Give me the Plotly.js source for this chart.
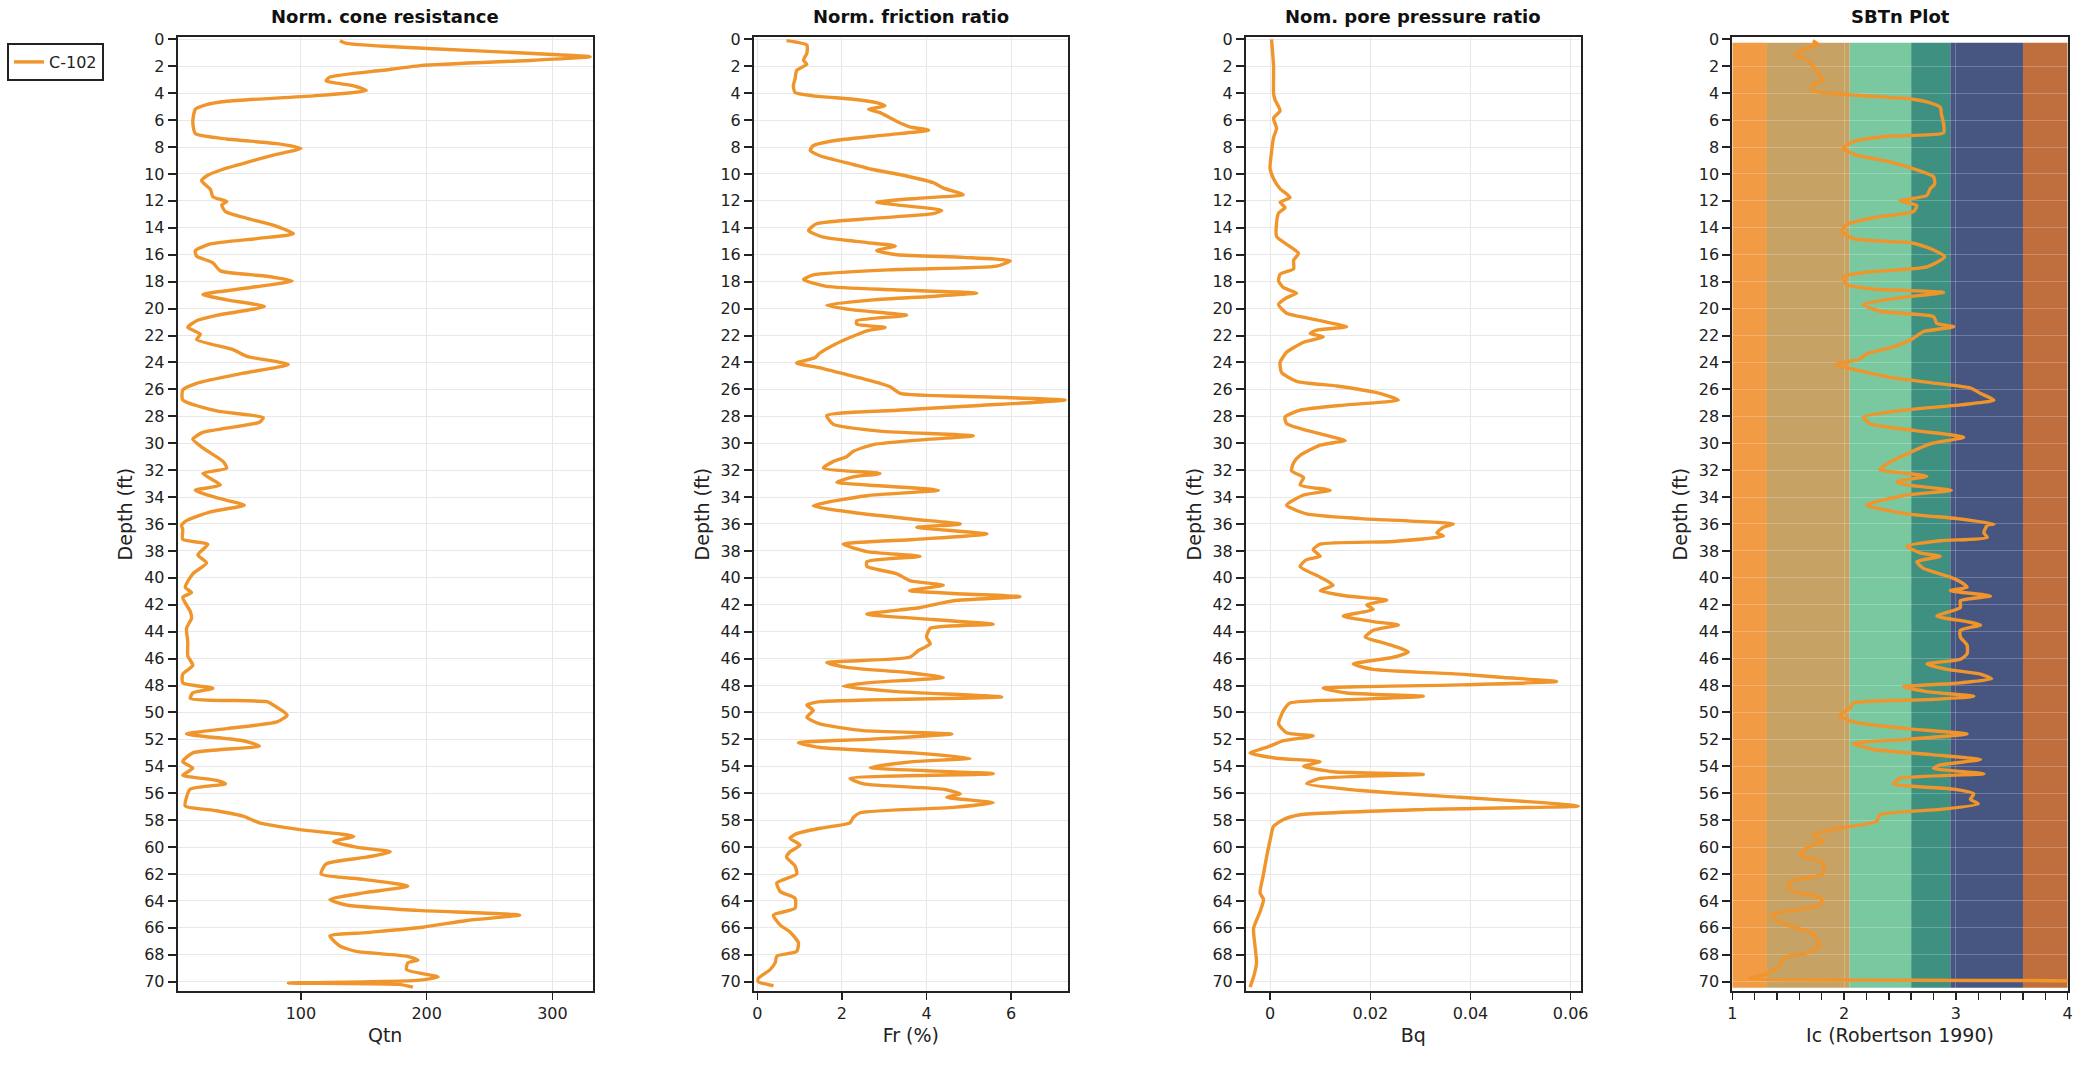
<!DOCTYPE html>
<html>
<head>
<meta charset="utf-8">
<script src="https://cdn.plot.ly/plotly-3.0.1.min.js"></script>
<style>
html,body{margin:0;padding:0;background:#ffffff;}
#chart{width:2089px;height:1074px;}
</style>
</head>
<body>
<div id="chart"></div>
<script>
// ---------------- DATA ----------------
const seriesName = 'C-102';

const panelTitles = ['Norm. cone resistance', 'Norm. friction ratio', 'Nom. pore pressure ratio', 'SBTn Plot'];
const xAxisTitles = ['Qtn', 'Fr (%)', 'Bq', 'Ic (Robertson 1990)'];
const depthTitle = 'Depth (ft)';

// Normalised cone resistance
const qtnDepth = [0.1,0.3,0.7,1.05,1.3,1.55,1.95,2.3,2.8,3.1,3.45,3.8,4.2,4.6,4.85,5.2,6.1,7.0,7.4,7.75,8.1,8.6,9.3,9.65,10.15,10.5,11.15,11.7,12.05,12.3,12.8,13.3,13.8,14.45,14.8,15.2,15.7,16.1,16.6,17.2,17.6,17.95,18.45,18.95,19.35,19.85,20.5,20.9,21.4,21.9,22.3,23.05,23.55,24.15,24.8,25.55,26.05,26.8,27.6,28.1,28.45,29.2,29.7,30.35,31.35,31.85,32.25,33.1,33.5,34.25,34.6,35.1,35.75,36.1,36.4,37.15,37.5,38.3,38.9,39.7,40.7,41.1,41.45,42.5,43.0,43.75,44.75,45.8,46.5,47.15,47.8,48.2,48.55,48.95,49.2,49.45,50.2,50.7,51.2,51.6,52.1,52.5,53.0,53.65,54.15,54.65,55.05,55.3,55.7,56.3,56.95,57.3,57.7,58.2,58.7,59.2,59.6,60.0,60.35,60.75,61.25,62.0,62.4,62.9,63.4,63.9,64.3,64.7,65.05,65.45,65.95,66.35,66.6,67.35,67.75,68.1,68.4,68.6,69.1,69.65,69.9,70.1,70.2,70.4];
const qtnValue = [131,136,205,285,330,285,195,165,123,120,142,152,110,41,25,16,14,16,41,81,100,78,51,38,25,21,28,30,41,37,40,57,78,94,65,28,16,17,30,36,73,93,59,22,41,71,33,17,10,20,17,46,57,90,54,17,6,6,33,70,67,22,14,22,38,41,22,36,16,41,55,28,9,5,6,6,26,18,25,14,8,13,6,12,13,9,10,10,14,6,6,30,14,12,73,78,89,81,41,9,54,67,14,6,14,6,33,40,12,9,8,33,54,67,99,142,126,144,171,152,120,116,150,185,150,123,136,192,274,232,197,152,123,131,144,184,193,185,184,209,192,90,178,189];

// Normalised friction ratio
const frDepth = [0.1,0.43,1.05,1.55,1.85,2.3,2.95,3.45,3.95,4.2,4.45,4.7,4.95,5.2,5.45,6.1,6.5,6.75,7.1,7.5,7.9,8.25,8.65,9.3,9.65,10.15,10.65,11.05,11.55,11.8,12.1,12.3,12.7,12.95,13.3,13.7,14.2,14.7,15.1,15.35,15.7,16.0,16.2,16.45,16.85,17.1,17.5,17.85,18.35,18.6,18.85,19.1,19.35,19.75,20.1,20.5,20.9,21.15,21.4,21.65,22.15,22.65,23.3,23.65,24.05,24.4,24.9,25.55,25.8,26.3,26.55,26.8,27.2,27.55,27.95,28.6,29.1,29.45,29.7,30.1,30.6,31.0,31.35,31.85,32.25,32.5,32.9,33.1,33.5,33.9,34.65,35.15,35.65,36.0,36.25,36.75,37.15,37.5,38.05,38.4,38.8,39.15,39.7,40.2,40.55,40.95,41.2,41.4,41.7,42.2,42.7,43.1,43.45,43.75,44.4,44.9,45.4,45.9,46.3,46.65,47.05,47.4,47.8,48.05,48.45,48.85,49.2,49.45,49.85,50.35,50.85,51.35,51.6,52.0,52.25,52.6,53.0,53.4,53.65,54.1,54.55,54.9,55.3,55.7,56.05,56.3,56.7,57.05,57.45,57.8,58.2,58.6,59.0,59.35,59.85,60.35,60.75,61.4,62.0,62.65,63.3,63.8,64.55,65.05,65.8,66.3,67.1,67.75,68.1,68.6,69.1,69.75,70.0,70.3];
const frValue = [0.69,1.17,1.17,1.09,1.17,0.93,0.89,0.85,0.89,1.32,2.27,2.82,3.02,2.63,2.9,3.3,3.6,4.05,3.06,1.88,1.32,1.25,1.48,2.27,2.7,3.53,4.16,4.4,4.87,3.85,2.82,3.3,4.36,4.16,2.74,1.4,1.21,1.56,2.59,3.26,2.82,3.3,4.87,5.98,5.66,3.3,1.32,1.09,1.64,3.22,5.19,4.09,2.74,1.64,2.27,3.53,2.35,2.35,3.02,2.59,2.19,1.84,1.48,1.36,0.93,1.48,2.11,2.9,3.14,3.38,5.27,7.28,5.27,3.3,1.64,1.8,2.9,5.11,4.09,2.74,2.27,2.11,1.8,1.56,2.9,2.27,1.88,2.59,4.28,2.59,1.32,2.27,3.69,4.8,3.77,5.43,3.69,2.03,2.59,3.85,2.59,2.59,3.3,3.6,4.4,3.6,4.87,6.21,4.64,3.85,2.59,4.16,5.58,4.09,4.0,4.09,3.81,3.6,1.64,2.11,3.6,4.4,2.59,2.03,3.3,5.78,1.48,1.17,1.32,1.17,1.48,2.51,4.6,2.59,0.97,1.48,3.69,5.03,3.69,2.67,5.58,2.19,2.51,4.4,4.8,4.48,5.58,4.64,2.43,2.27,2.19,1.48,0.93,0.77,1.01,0.77,0.69,0.89,0.93,0.46,0.54,0.89,0.89,0.38,0.54,0.77,0.97,0.93,0.46,0.42,0.3,0.02,0.02,0.38];

// Normalised pore pressure ratio
const bqDepth = [0.0,2.0,4.0,4.5,5.3,5.85,6.6,7.3,8.35,9.6,10.35,11.1,11.75,12.1,12.5,12.9,13.65,14.65,15.4,15.9,16.4,17.05,17.45,17.95,18.45,18.85,19.2,19.7,20.35,20.6,20.95,21.35,21.6,21.85,22.1,22.5,23.25,24.0,24.75,25.4,25.75,26.25,26.8,27.15,27.55,28.05,28.55,29.05,29.55,29.8,30.15,30.9,31.45,32.05,32.55,33.1,33.5,33.85,34.6,35.25,35.6,36.0,36.25,36.65,36.9,37.3,37.5,37.9,38.4,38.65,39.15,39.95,40.55,40.95,41.35,41.65,42.0,42.35,42.85,43.25,43.5,43.9,44.4,44.9,45.5,45.9,46.4,46.8,47.15,47.4,47.7,47.95,48.2,48.55,48.8,49.05,49.3,49.85,50.85,51.5,51.75,52.1,52.6,53.0,53.4,53.65,54.0,54.4,54.6,54.9,55.3,55.8,56.3,56.7,56.95,57.2,57.6,57.95,58.45,59.5,60.75,62.0,63.4,63.9,64.8,66.05,67.35,68.6,69.65,70.4];
const bqValue = [0.0003,0.0007,0.0007,0.001,0.002,0.0007,0.0013,0.0007,0.0003,0.0,0.0007,0.002,0.004,0.002,0.003,0.0017,0.0013,0.0013,0.004,0.0057,0.0047,0.0047,0.002,0.0017,0.0027,0.0053,0.0033,0.0017,0.0033,0.006,0.0106,0.0153,0.0093,0.008,0.0106,0.0067,0.0033,0.002,0.0023,0.0053,0.0133,0.0213,0.0256,0.0153,0.006,0.003,0.0033,0.0073,0.0126,0.015,0.01,0.006,0.0047,0.0043,0.0067,0.006,0.012,0.0067,0.0033,0.0073,0.018,0.0366,0.0346,0.0333,0.0346,0.0246,0.01,0.0086,0.01,0.0073,0.006,0.01,0.0126,0.01,0.0153,0.0233,0.0193,0.0206,0.0146,0.0206,0.0256,0.0206,0.019,0.0233,0.0276,0.0246,0.0166,0.0206,0.0379,0.0466,0.0572,0.0379,0.0106,0.0153,0.0306,0.0153,0.004,0.0027,0.0017,0.0033,0.0086,0.0027,-0.0007,-0.004,0.0013,0.01,0.0067,0.0126,0.0306,0.01,0.0073,0.018,0.0379,0.0545,0.0615,0.0313,0.006,0.0027,0.0007,0.0,-0.0007,-0.0013,-0.002,-0.0013,-0.002,-0.0033,-0.003,-0.0027,-0.0033,-0.004];

// Soil behaviour type index
const icDepth = [0.1,0.4,0.65,1.15,1.5,2.0,2.65,3.0,3.4,3.8,4.15,4.4,4.65,5.05,5.55,6.3,6.95,7.2,7.6,8.1,8.6,9.1,9.7,10.2,10.75,11.1,11.6,12.0,12.35,12.8,13.25,13.75,14.25,14.8,15.15,15.65,16.15,16.9,17.3,17.65,18.2,18.55,18.8,19.2,19.7,20.2,20.6,21.1,21.35,21.7,22.2,22.85,23.35,23.75,24.15,24.5,25.15,25.5,25.9,26.3,26.8,27.15,27.55,28.05,28.55,29.05,29.55,30.05,30.8,31.55,31.95,32.45,32.85,33.1,33.5,33.85,34.6,35.25,35.6,36.0,36.1,36.65,37.0,37.25,37.65,38.15,38.4,38.8,39.3,39.95,40.45,40.7,40.95,41.35,41.7,42.2,42.85,43.25,43.5,43.9,44.4,45.0,45.65,46.05,46.4,46.8,47.15,47.5,47.8,48.1,48.45,48.8,49.05,49.3,49.7,50.2,50.7,51.2,51.6,52.0,52.3,52.75,53.15,53.5,53.9,54.15,54.55,54.9,55.3,55.7,56.05,56.45,56.8,57.2,57.6,58.1,58.6,59.1,59.6,60.0,60.6,61.15,62.0,62.55,63.15,63.8,64.3,64.7,65.05,65.7,66.45,67.35,67.85,68.2,68.75,69.4,69.75,70.1,70.25];
const icValue = [1.72,1.77,1.67,1.56,1.67,1.72,1.78,1.81,1.72,1.71,2.11,2.56,2.74,2.86,2.87,2.89,2.89,2.38,2.08,1.99,2.11,2.41,2.65,2.8,2.81,2.77,2.74,2.5,2.65,2.62,2.26,2.02,1.98,2.08,2.62,2.8,2.9,2.74,2.2,1.99,2.02,2.26,2.89,2.5,2.17,2.32,2.8,2.83,2.98,2.71,2.62,2.44,2.2,2.14,1.93,2.08,2.44,2.77,3.13,3.22,3.34,3.04,2.53,2.17,2.23,2.62,3.07,2.77,2.56,2.38,2.32,2.74,2.47,2.56,2.96,2.56,2.2,2.56,3.01,3.34,3.28,3.25,3.28,2.86,2.56,2.68,2.86,2.65,2.71,2.95,3.07,3.1,2.95,3.31,3.04,3.04,2.83,3.1,3.22,3.04,3.04,3.1,3.1,3.04,2.74,2.92,3.22,3.32,3.04,2.53,2.74,3.16,2.74,2.08,2.05,1.96,2.08,2.56,3.1,2.56,2.08,2.26,2.8,3.22,2.86,2.8,3.25,2.5,2.44,2.98,3.16,3.13,3.2,2.86,2.32,2.29,1.96,1.72,1.81,1.67,1.61,1.81,1.81,1.52,1.5,1.8,1.78,1.55,1.34,1.46,1.72,1.78,1.67,1.46,1.43,1.31,1.16,4.5,4.5];

// Robertson (1990) SBTn zone boundaries on the Ic axis, zone colours and depth span
const icZoneBounds = [1.0, 1.31, 2.05, 2.60, 2.95, 3.60, 4.0];
const icZoneColors = ['#f29b45', '#c6a264', '#7ac8a0', '#3e9080', '#475680', '#bf6e3e'];
const icZoneDepthSpan = [0.25, 70.45];

// ---------------- LAYOUT ----------------
const W = 2089, H = 1074;
const lineColor = '#f0952c';
const fontFam = '"DejaVu Sans", Verdana, sans-serif';
const panelsPx = [[177.7, 592.7], [754, 1067.7], [1246, 1580.7], [1732.3, 2067.7]];
const yDom = [1 - 991 / H, 1 - 37.3 / H];
const depthRange = [70.69, -0.15];
const xRanges = [[2, 332], [-0.08, 7.34], [-0.0048, 0.062], [1, 4]];
const xDticks = [100, 2, 0.02, 1];

const depths = [qtnDepth, frDepth, bqDepth, icDepth];
const values = [qtnValue, frValue, bqValue, icValue];

const data = [];
for (let i = 0; i < 4; i++) {
  const sfx = i === 0 ? '' : String(i + 1);
  data.push({
    type: 'scatter', mode: 'lines',
    x: values[i], y: depths[i],
    xaxis: 'x' + sfx, yaxis: 'y' + sfx,
    name: seriesName, showlegend: i === 0,
    line: {color: lineColor, width: 3.4, shape: 'spline', smoothing: 0.55},
    hoverinfo: 'x+y'
  });
}

const layout = {
  width: W, height: H,
  margin: {l: 0, r: 0, t: 0, b: 0},
  paper_bgcolor: '#ffffff', plot_bgcolor: '#ffffff',
  font: {family: fontFam, size: 16, color: '#222222'},
  showlegend: true,
  legend: {
    x: 7 / W, y: 1 - 43 / H, xanchor: 'left', yanchor: 'top',
    bordercolor: '#222222', borderwidth: 2, bgcolor: '#ffffff',
    font: {family: fontFam, size: 16, color: '#222222'},
    itemwidth: 30
  },
  annotations: [],
  shapes: []
};

for (let i = 0; i < 4; i++) {
  const sfx = i === 0 ? '' : String(i + 1);
  const [l, r] = panelsPx[i];
  const gridCol = i === 3 ? 'rgba(255,255,255,0.22)' : '#e8e8e8';
  layout['xaxis' + sfx] = {
    domain: [l / W, r / W], anchor: 'y' + sfx,
    range: xRanges[i], dtick: xDticks[i], tick0: 0,
    showline: true, mirror: true, linecolor: '#222222', linewidth: 2,
    ticks: 'outside', ticklen: 7, tickwidth: 1.5, tickcolor: '#222222',
    showgrid: true, gridcolor: gridCol, gridwidth: 1, zeroline: false,
    tickfont: {family: fontFam, size: 16, color: '#222222'},
    title: {text: xAxisTitles[i], font: {family: fontFam, size: 19, color: '#222222'}, standoff: 6},
    automargin: false
  };
  if (i === 3) {
    layout['xaxis' + sfx].minor = {dtick: 0.2, ticks: 'outside', ticklen: 7, tickwidth: 1.5, tickcolor: '#222222', showgrid: false};
  }
  layout['yaxis' + sfx] = {
    domain: yDom, anchor: 'x' + sfx,
    range: depthRange, dtick: 2, tick0: 0,
    showline: true, mirror: true, linecolor: '#222222', linewidth: 2,
    ticks: 'outside', ticklen: 8, tickwidth: 2, tickcolor: '#222222',
    showgrid: true, gridcolor: gridCol, gridwidth: 1, zeroline: false,
    tickfont: {family: fontFam, size: 16, color: '#222222'},
    title: {text: depthTitle, font: {family: fontFam, size: 19, color: '#222222'}, standoff: 6},
    automargin: false
  };
  layout.annotations.push({
    text: '<b>' + panelTitles[i] + '</b>',
    xref: 'paper', yref: 'paper',
    x: (l + r) / 2 / W, y: 1 - 16.5 / H,
    xanchor: 'center', yanchor: 'middle', showarrow: false,
    font: {family: fontFam, size: 18, color: '#111111'}
  });
}

// SBTn zone bands on the Ic subplot (data coordinates)
for (let k = 0; k < icZoneColors.length; k++) {
  layout.shapes.push({
    type: 'rect', xref: 'x4', yref: 'y4', layer: 'below',
    x0: icZoneBounds[k], x1: icZoneBounds[k + 1],
    y0: icZoneDepthSpan[0], y1: icZoneDepthSpan[1],
    fillcolor: icZoneColors[k], line: {width: 0}
  });
}

Plotly.newPlot('chart', data, layout, {displayModeBar: false, staticPlot: true});
</script>
</body>
</html>
